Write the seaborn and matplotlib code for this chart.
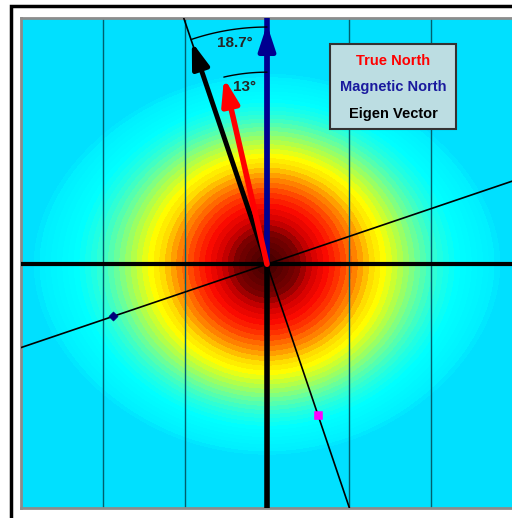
import numpy as np
import seaborn as sns
import matplotlib.pyplot as plt
from matplotlib.colors import LinearSegmentedColormap
from matplotlib.patches import Rectangle

sns.set_style('white')
plt.rcParams['font.family'] = ['Liberation Sans', 'DejaVu Sans']

# angles measured from magnetic north (degrees, towards west)
true_north_deg = 13.0
eigen_deg = 18.7
true_north_len = 2.33
eigen_len = 2.86
magnetic_tip = 2.92

# sample points on the eigen axes
diamond_pt = (-1.878, -0.634)
square_pt = (0.622, -1.841)

legend_labels = ['True North', 'Magnetic North', 'Eigen Vector']
legend_colors = ['#ff0000', '#1a1a9e', '#000000']

# colour bands of the density plot: distance from centre -> colour
band_dist = [0.0, 0.37, 0.55, 0.73, 0.91, 1.12, 1.28, 1.43, 1.6, 1.83, 2.07, 2.32, 2.75, 2.85, 3.0]
band_rgb = [(60, 0, 0), (120, 0, 0), (210, 0, 0), (250, 10, 0), (255, 60, 0), (255, 150, 0),
            (255, 220, 0), (255, 255, 0), (190, 255, 60), (110, 255, 150), (40, 255, 220),
            (0, 255, 255), (0, 240, 255), (0, 228, 255), (0, 224, 255)]
vertical_squeeze = 0.35

fig = plt.figure(figsize=(5.12, 5.18), dpi=100)
ax = fig.add_axes([21 / 512, 1 - 508 / 518, 492 / 512, 490 / 518])

xs = np.linspace(-3, 3, 500)
ys = np.linspace(-3, 3, 500)
X, Y = np.meshgrid(xs, ys)
R2 = (X**2 + Y**2) / 2.9**2
D = np.sqrt(X**2 + (Y * (1 + vertical_squeeze * R2))**2)

cmap = LinearSegmentedColormap.from_list(
    'heat', [(d / 3.0, tuple(c / 255 for c in rgb)) for d, rgb in zip(band_dist, band_rgb)])
levels = np.concatenate([np.linspace(0, 2.85, 42), [20]])
ax.contourf(X, Y, D, levels=levels, cmap=cmap, vmin=0, vmax=3)

# grid lines
for gx in [-2, -1, 1, 2]:
    ax.axvline(gx, color='#00606e', lw=1, zorder=2)

# eigen axes
t = np.radians(eigen_deg)
line_x = np.array([-5, 5])
ax.plot(line_x * np.cos(t), line_x * np.sin(t), color='black', lw=1.2, zorder=3)
ax.plot(-line_x * np.sin(t), line_x * np.cos(t), color='black', lw=1.2, zorder=3)

# main axes
ax.axhline(0, color='black', lw=3, zorder=4)
ax.plot([0, 0], [-3, 0], color='black', lw=4, zorder=4, solid_capstyle='butt')
ax.plot([0, 0], [0, 3], color='#00008f', lw=4, zorder=5, solid_capstyle='butt')

def arrow(angle, length, color, lw):
    a = np.radians(angle)
    tip = (-length * np.sin(a), length * np.cos(a))
    ax.annotate('', xy=tip, xytext=(0, 0),
                arrowprops=dict(arrowstyle='-|>,head_length=0.85,head_width=0.28',
                                color=color, lw=lw, shrinkA=0, shrinkB=0,
                                mutation_scale=18), zorder=6)

arrow(0, magnetic_tip, '#00008f', 3.5)
arrow(eigen_deg, eigen_len, 'black', 3.5)
arrow(true_north_deg, true_north_len, '#ff0000', 4)

# angle arcs
for ang, rad in [(eigen_deg, 2.89), (true_north_deg, 2.34)]:
    th = np.radians(np.linspace(0, ang, 50))
    ax.plot(-rad * np.sin(th), rad * np.cos(th), color='black', lw=1, zorder=6)

ax.text(-0.39, 2.7, '18.7°', fontsize=11, fontweight='bold', ha='center', va='center', zorder=7)
ax.text(-0.27, 2.16, '13°', fontsize=11, fontweight='bold', ha='center', va='center', zorder=7)

# sample markers
sns.scatterplot(x=[diamond_pt[0]], y=[diamond_pt[1]], marker='D', s=22,
                color='#00007a', edgecolor='#00007a', ax=ax, zorder=8)
sns.scatterplot(x=[square_pt[0]], y=[square_pt[1]], marker='s', s=28,
                color='#ff00ff', edgecolor='#ff00ff', ax=ax, zorder=8)

ax.set_xlim(-3, 3)
ax.set_ylim(-2.97, 3)
ax.set_xticks([])
ax.set_yticks([])
for sp in ax.spines.values():
    sp.set_color('#8c8c8c')
    sp.set_linewidth(2)

# legend box
box = Rectangle((330 / 512, 1 - 129 / 518), 126 / 512, 85 / 518, transform=fig.transFigure,
                facecolor='#bcdde2', edgecolor='#333333', lw=1.5, zorder=10)
fig.patches.append(box)
for lab, col, py in zip(legend_labels, legend_colors, [61, 87, 114]):
    fig.text(393 / 512, 1 - py / 518, lab, color=col, fontsize=10.5, fontweight='bold',
             ha='center', va='center', zorder=11)

# outer frame
frame = Rectangle((11 / 512, -0.2), 1.2, 1.2 - 6 / 518, transform=fig.transFigure,
                  fill=False, edgecolor='black', lw=2.5)
fig.patches.append(frame)

fig.savefig('out.png', dpi=100)
